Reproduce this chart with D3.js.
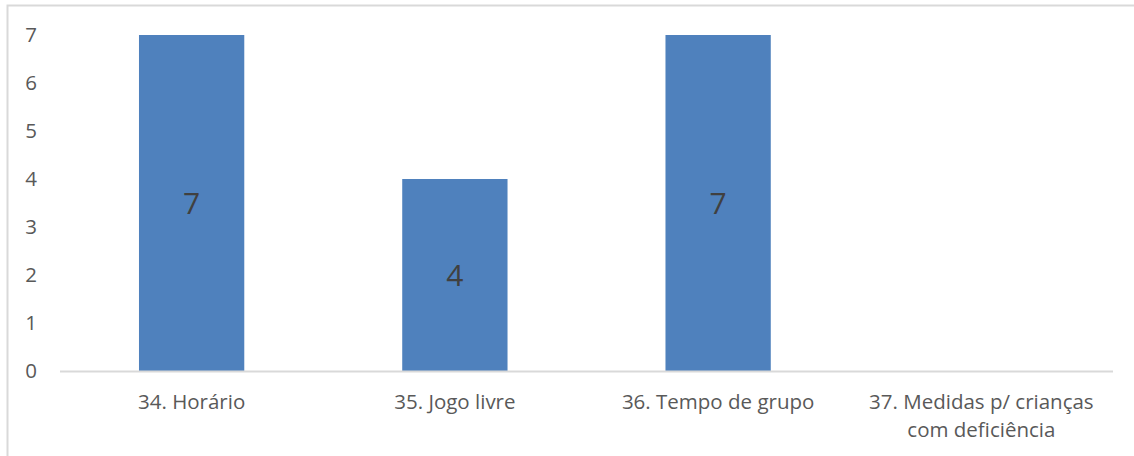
<!DOCTYPE html>
<html>
<head>
<meta charset="utf-8">
<script src="https://d3js.org/d3.v7.min.js"></script>
<style>
  body { margin: 0; background: #fff; }
  text { font-family: "Open Sans", sans-serif; }
</style>
</head>
<body>
<div id="chart"></div>
<script>
// chart data
var categories = [
  ["34. Horário"],
  ["35. Jogo livre"],
  ["36. Tempo de grupo"],
  ["37. Medidas p/ crianças", "com deficiência"]
];
var values = [7, 4, 7, 0];
var yTicks = [0, 1, 2, 3, 4, 5, 6, 7];

var width = 1134, height = 456;
var margin = {top: 35, right: 21, bottom: 85, left: 60};

var svg = d3.select("#chart").append("svg")
  .attr("width", width)
  .attr("height", height);

// outer chart border (cut off on the right and bottom like the original)
svg.append("rect")
  .attr("x", 7.5).attr("y", 5.5)
  .attr("width", width + 10).attr("height", height + 10)
  .attr("fill", "none")
  .attr("stroke", "#d9d9d9")
  .attr("stroke-width", 2);

var x = d3.scaleBand()
  .domain(d3.range(categories.length))
  .range([margin.left, width - margin.right])
  .padding(0);

var y = d3.scaleLinear()
  .domain([0, 7])
  .range([height - margin.bottom, margin.top]);

var barW = x.bandwidth() * 0.4;

// y labels
svg.append("g").selectAll("text")
  .data(yTicks)
  .join("text")
  .attr("x", 37)
  .attr("y", d => y(d))
  .attr("dy", "0.35em")
  .attr("text-anchor", "end")
  .attr("fill", "#595959")
  .style("font-size", "20.5px")
  .text(d => d);

// bars
svg.append("g").selectAll("rect")
  .data(values)
  .join("rect")
  .attr("x", (d, i) => x(i) + (x.bandwidth() - barW) / 2)
  .attr("y", d => y(d))
  .attr("width", barW)
  .attr("height", d => y(0) - y(d))
  .attr("fill", "#4f81bd");

// baseline
svg.append("line")
  .attr("x1", margin.left).attr("x2", width - margin.right)
  .attr("y1", y(0) + 0.5).attr("y2", y(0) + 0.5)
  .attr("stroke", "#d9d9d9")
  .attr("stroke-width", 2);

// data labels, centred in the bar (none for zero)
values.forEach(function(v, i) {
  if (v <= 0) return;
  svg.append("text")
    .attr("x", x(i) + x.bandwidth() / 2)
    .attr("y", (y(v) + y(0)) / 2)
    .attr("dy", "0.35em")
    .attr("text-anchor", "middle")
    .attr("fill", "#404040")
    .style("font-size", "30px")
    .text(v);
});

// category labels
var xl = svg.append("g").selectAll("text")
  .data(categories)
  .join("text")
  .attr("text-anchor", "middle")
  .attr("fill", "#595959")
  .style("font-size", "20.5px")
  .attr("transform", (d, i) => "translate(" + (x(i) + x.bandwidth() / 2) + "," + 409 + ")");

xl.selectAll("tspan")
  .data(d => d)
  .join("tspan")
  .attr("x", 0)
  .attr("dy", (d, j) => j === 0 ? 0 : 28)
  .text(d => d);
</script>
</body>
</html>
